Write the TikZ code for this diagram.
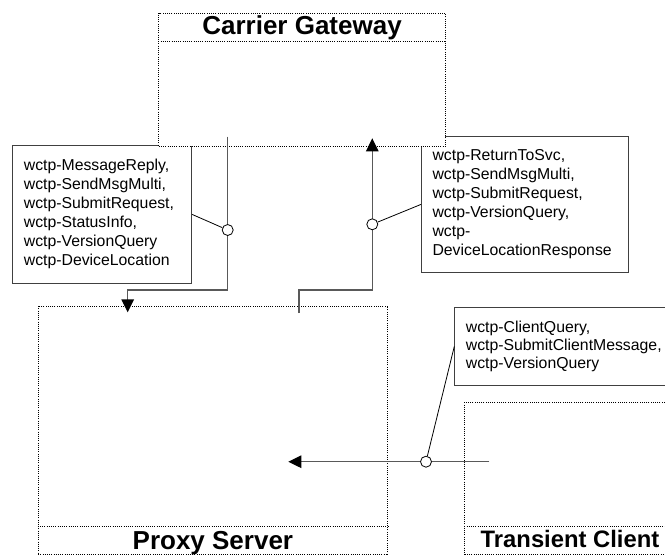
\documentclass[tikz,border=0pt]{standalone}
\usepackage{fontspec}
\setmainfont{Liberation Sans}
\usetikzlibrary{arrows.meta,calc}
\exhyphenpenalty=10000
\hyphenpenalty=10000
\begin{document}
\begin{tikzpicture}[x=1pt,y=-1pt,
  dotbox/.style={draw=black, line width=0.8pt, dash pattern=on 1pt off 1.2pt, fill=white, inner sep=0pt, anchor=north west},
  dotline/.style={draw=black, line width=0.8pt, dash pattern=on 1pt off 1.2pt},
  notebox/.style={draw=black!75, line width=1.1pt, fill=white, anchor=north west, inner xsep=11pt, inner ysep=0pt, align=left, font=\fontsize{15.8}{19}\selectfont},
  boxtitle/.style={font=\fontsize{26}{30}\selectfont\bfseries, anchor=base, inner sep=0pt},
  conn/.style={draw=black!65, line width=1.4pt},
  tip/.style={-{Triangle[length=13pt,width=12.5pt,color=black]}},
  port/.style={circle, draw=black, line width=0.8pt, fill=white, minimum size=11pt, inner sep=0pt},
  lead/.style={draw=black, line width=0.8pt}]
\useasboundingbox (0,0) rectangle (665,555);
\clip (0,0) rectangle (665,555);
% notes
\node[notebox, minimum width=178.7pt, minimum height=137.7pt, text width=156.7pt] (L) at (12.3,145)
  {wctp-MessageReply,\\wctp-SendMsgMulti,\\wctp-SubmitRequest,\\wctp-StatusInfo,\\wctp-VersionQuery\\wctp-DeviceLocation};
\node[notebox, minimum width=206.7pt, minimum height=136.3pt, text width=184.7pt] (R) at (421,135.7)
  {wctp-ReturnToSvc,\\wctp-SendMsgMulti,\\wctp-SubmitRequest,\\wctp-VersionQuery,\\wctp-\\DeviceLocationResponse};
\node[notebox, font=\fontsize{15.8}{18}\selectfont, minimum width=225pt, minimum height=78.3pt, text width=203pt] (C) at (454.3,306.7)
  {wctp-ClientQuery,\\wctp-SubmitClientMessage,\\wctp-VersionQuery};
% components
\node[dotbox, minimum width=286.7pt, minimum height=133.3pt] (cg) at (158.3,12.7) {};
\draw[dotline] ($(cg.north west)+(0,29)$) -- ($(cg.north east)+(0,29)$);
\node[boxtitle] (cgt) at ($(cg.north)+(0,21.6)$) {Carrier Gateway};
\node[dotbox, minimum width=349.6pt, minimum height=248.8pt] (proxy) at (37.7,305.5) {};
\draw[dotline] ($(proxy.south west)+(0,-28.6)$) -- ($(proxy.south east)+(0,-28.6)$);
\node[boxtitle] (pt) at ($(proxy.south)+(0,-5.3)$) {Proxy Server};
\node[dotbox, minimum width=210.7pt, minimum height=152.6pt] (tc) at (464.3,401.7) {};
\draw[dotline] ($(tc.south west)+(0,-28.6)$) -- ($(tc.south east)+(0,-28.6)$);
\node[boxtitle, font=\fontsize{23.8}{28}\selectfont\bfseries] (tct) at (570,547.7) {Transient Client};
% connectors
\coordinate (cgout) at (227.7,136.7);
\coordinate (k1) at (227.7,290);
\coordinate (pin1) at (127.7,312.3);
\draw[conn, tip] (cgout) -- (k1) -| (pin1);
\coordinate (pout) at (299,313);
\coordinate (k2) at (299,290);
\coordinate (cgin) at (372.3,138.3);
\draw[conn, tip] (pout) -- (k2) -| (cgin);
\coordinate (tcout) at (489.3,461.7);
\coordinate (pin2) at (288.3,461.7);
\draw[conn, tip] (tcout) -- (pin2);
% ports
\node[port] (c1) at (227.7,230) {};
\node[port] (c2) at (372.3,224.3) {};
\node[port] (c3) at (426,461.7) {};
\draw[lead] (L.east) -- (c1);
\draw[lead] (R.west) -- (c2);
\draw[lead] (C.west) -- (c3);
\end{tikzpicture}
\end{document}
